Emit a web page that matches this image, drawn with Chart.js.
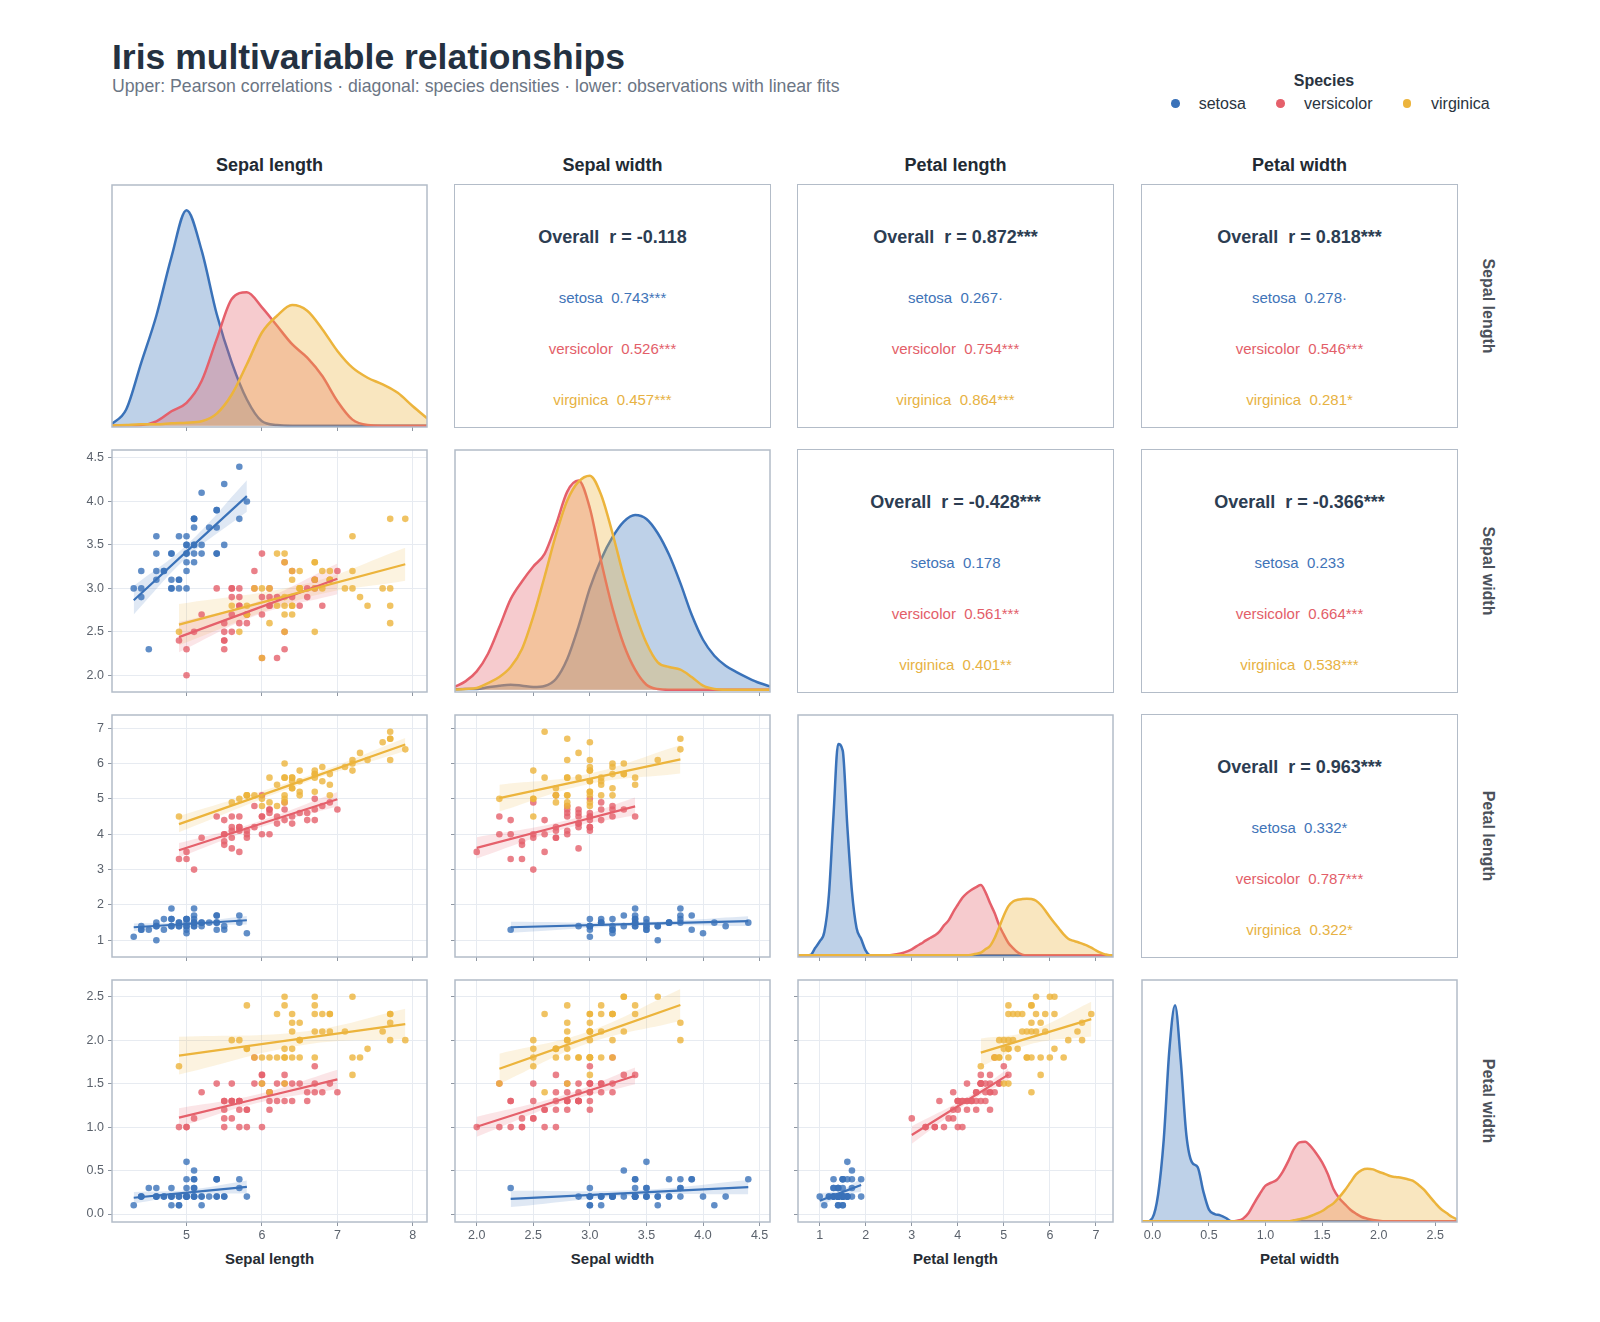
<!DOCTYPE html>
<html><head><meta charset="utf-8"><title>Iris multivariable relationships</title>
<script src="https://cdn.jsdelivr.net/npm/chart.js@4.4.1/dist/chart.umd.min.js"></script>
<style>
html,body{margin:0;padding:0;background:#fff;}
body{position:relative;width:1600px;height:1322px;overflow:hidden;font-family:"Liberation Sans",Arial,Helvetica,sans-serif;}
.txt{position:absolute;line-height:1;white-space:pre;}
canvas{position:absolute;}
.cell{position:absolute;box-sizing:border-box;border:1.5px solid #b3bcc8;}
.cell .line{position:absolute;left:0;right:0;text-align:center;line-height:1;white-space:pre;}
.dot{position:absolute;border-radius:50%;}
</style></head><body>
<script>
// ================= DATA =================
const speciesNames = ['setosa', 'versicolor', 'virginica'];
const variableNames = ['Sepal length', 'Sepal width', 'Petal length', 'Petal width'];

// observations (150 flowers)
const setosaSepalLength = [5.1,4.9,4.7,4.6,5.0,5.4,4.6,5.0,4.4,4.9,5.4,4.8,4.8,4.3,5.8,5.7,5.4,5.1,5.7,5.1,5.4,5.1,4.6,5.1,4.8,5.0,5.0,5.2,5.2,4.7,4.8,5.4,5.2,5.5,4.9,5.0,5.5,4.9,4.4,5.1,5.0,4.5,4.4,5.0,5.1,4.8,5.1,4.6,5.3,5.0];
const setosaSepalWidth  = [3.5,3.0,3.2,3.1,3.6,3.9,3.4,3.4,2.9,3.1,3.7,3.4,3.0,3.0,4.0,4.4,3.9,3.5,3.8,3.8,3.4,3.7,3.6,3.3,3.4,3.0,3.4,3.5,3.4,3.2,3.1,3.4,4.1,4.2,3.1,3.2,3.5,3.6,3.0,3.4,3.5,2.3,3.2,3.5,3.8,3.0,3.8,3.2,3.7,3.3];
const setosaPetalLength = [1.4,1.4,1.3,1.5,1.4,1.7,1.4,1.5,1.4,1.5,1.5,1.6,1.4,1.1,1.2,1.5,1.3,1.4,1.7,1.5,1.7,1.5,1.0,1.7,1.9,1.6,1.6,1.5,1.4,1.6,1.6,1.5,1.5,1.4,1.5,1.2,1.3,1.4,1.3,1.5,1.3,1.3,1.3,1.6,1.9,1.4,1.6,1.4,1.5,1.4];
const setosaPetalWidth  = [0.2,0.2,0.2,0.2,0.2,0.4,0.3,0.2,0.2,0.1,0.2,0.2,0.1,0.1,0.2,0.4,0.4,0.3,0.3,0.3,0.2,0.4,0.2,0.5,0.2,0.2,0.4,0.2,0.2,0.2,0.2,0.4,0.1,0.2,0.2,0.2,0.2,0.1,0.2,0.2,0.3,0.3,0.2,0.6,0.4,0.3,0.2,0.2,0.2,0.2];
const versicolorSepalLength = [7.0,6.4,6.9,5.5,6.5,5.7,6.3,4.9,6.6,5.2,5.0,5.9,6.0,6.1,5.6,6.7,5.6,5.8,6.2,5.6,5.9,6.1,6.3,6.1,6.4,6.6,6.8,6.7,6.0,5.7,5.5,5.5,5.8,6.0,5.4,6.0,6.7,6.3,5.6,5.5,5.5,6.1,5.8,5.0,5.6,5.7,5.7,6.2,5.1,5.7];
const versicolorSepalWidth  = [3.2,3.2,3.1,2.3,2.8,2.8,3.3,2.4,2.9,2.7,2.0,3.0,2.2,2.9,2.9,3.1,3.0,2.7,2.2,2.5,3.2,2.8,2.5,2.8,2.9,3.0,2.8,3.0,2.9,2.6,2.4,2.4,2.7,2.7,3.0,3.4,3.1,2.3,3.0,2.5,2.6,3.0,2.6,2.3,2.7,3.0,2.9,2.9,2.5,2.8];
const versicolorPetalLength = [4.7,4.5,4.9,4.0,4.6,4.5,4.7,3.3,4.6,3.9,3.5,4.2,4.0,4.7,3.6,4.4,4.5,4.1,4.5,3.9,4.8,4.0,4.9,4.7,4.3,4.4,4.8,5.0,4.5,3.5,3.8,3.7,3.9,5.1,4.5,4.5,4.7,4.4,4.1,4.0,4.4,4.6,4.0,3.3,4.2,4.2,4.2,4.3,3.0,4.1];
const versicolorPetalWidth  = [1.4,1.5,1.5,1.3,1.5,1.3,1.6,1.0,1.3,1.4,1.0,1.5,1.0,1.4,1.3,1.4,1.5,1.0,1.5,1.1,1.8,1.3,1.5,1.2,1.3,1.4,1.4,1.7,1.5,1.0,1.1,1.0,1.2,1.6,1.5,1.6,1.5,1.3,1.3,1.3,1.2,1.4,1.2,1.0,1.3,1.2,1.3,1.3,1.1,1.3];
const virginicaSepalLength = [6.3,5.8,7.1,6.3,6.5,7.6,4.9,7.3,6.7,7.2,6.5,6.4,6.8,5.7,5.8,6.4,6.5,7.7,7.7,6.0,6.9,5.6,7.7,6.3,6.7,7.2,6.2,6.1,6.4,7.2,7.4,7.9,6.4,6.3,6.1,7.7,6.3,6.4,6.0,6.9,6.7,6.9,5.8,6.8,6.7,6.7,6.3,6.5,6.2,5.9];
const virginicaSepalWidth  = [3.3,2.7,3.0,2.9,3.0,3.0,2.5,2.9,2.5,3.6,3.2,2.7,3.0,2.5,2.8,3.2,3.0,3.8,2.6,2.2,3.2,2.8,2.8,2.7,3.3,3.2,2.8,3.0,2.8,3.0,2.8,3.8,2.8,2.8,2.6,3.0,3.4,3.1,3.0,3.1,3.1,3.1,2.7,3.2,3.3,3.0,2.5,3.0,3.4,3.0];
const virginicaPetalLength = [6.0,5.1,5.9,5.6,5.8,6.6,4.5,6.3,5.8,6.1,5.1,5.3,5.5,5.0,5.1,5.3,5.5,6.7,6.9,5.0,5.7,4.9,6.7,4.9,5.7,6.0,4.8,4.9,5.6,5.8,6.1,6.4,5.6,5.1,5.6,6.1,5.6,5.5,4.8,5.4,5.6,5.1,5.1,5.9,5.7,5.2,5.0,5.2,5.4,5.1];
const virginicaPetalWidth  = [2.5,1.9,2.1,1.8,2.2,2.1,1.7,1.8,1.8,2.5,2.0,1.9,2.1,2.0,2.4,2.3,1.8,2.2,2.3,1.5,2.3,2.0,2.0,1.8,2.1,1.8,1.8,1.8,2.1,1.6,1.9,2.0,2.2,1.5,1.4,2.3,2.4,1.8,1.8,2.1,2.4,2.3,1.9,2.3,2.5,2.3,1.9,2.0,2.3,1.8];

// tick values and labels
const sepalLengthTicks = [5, 6, 7, 8];
const sepalLengthTickLabels = ['5', '6', '7', '8'];
const sepalWidthTicks = [2.0, 2.5, 3.0, 3.5, 4.0, 4.5];
const sepalWidthTickLabels = ['2.0', '2.5', '3.0', '3.5', '4.0', '4.5'];
const petalLengthTicks = [1, 2, 3, 4, 5, 6, 7];
const petalLengthTickLabels = ['1', '2', '3', '4', '5', '6', '7'];
const petalWidthTicks = [0.0, 0.5, 1.0, 1.5, 2.0, 2.5];
const petalWidthTickLabels = ['0.0', '0.5', '1.0', '1.5', '2.0', '2.5'];
const axisMin = [4.012, 1.808, 0.528, -0.092];
const axisMax = [8.188, 4.592, 7.372, 2.692];

// species densities
const sepalLengthGrid = [4.0,4.2,4.4,4.6,4.8,5.0,5.2,5.4,5.6,5.8,6.0,6.2,6.4,6.6,6.8,7.0,7.2,7.4,7.6,7.8,8.0,8.2];
const setosaSepalLengthDensity     = [0.006,0.096,0.376,0.656,1.006,1.286,1.046,0.666,0.376,0.156,0.026,0.004,0,0,0,0,0,0,0,0,0,0];
const versicolorSepalLengthDensity = [0,0.002,0.004,0.026,0.086,0.136,0.266,0.516,0.756,0.796,0.706,0.596,0.486,0.406,0.296,0.146,0.036,0.004,0,0,0,0];
const virginicaSepalLengthDensity  = [0,0.004,0.008,0.008,0.014,0.018,0.026,0.072,0.186,0.366,0.556,0.656,0.72,0.686,0.576,0.446,0.346,0.286,0.246,0.196,0.116,0.04];

const sepalWidthGrid = [1.8,1.9,2.0,2.1,2.2,2.3,2.4,2.5,2.6,2.7,2.8,2.9,3.0,3.1,3.2,3.3,3.4,3.5,3.6,3.7,3.8,3.9,4.0,4.1,4.2,4.3,4.4,4.5,4.6];
const setosaSepalWidthDensity     = [0.002,0.004,0.004,0.014,0.024,0.03,0.024,0.016,0.022,0.064,0.184,0.38,0.61,0.784,0.916,1.01,1.05,1.026,0.94,0.81,0.64,0.45,0.3,0.204,0.144,0.104,0.07,0.04,0.018];
const versicolorSepalWidthDensity = [0.016,0.05,0.11,0.216,0.376,0.544,0.65,0.74,0.816,0.99,1.19,1.256,1.09,0.77,0.49,0.27,0.12,0.03,0.004,0,0,0,0,0,0,0,0,0,0];
const virginicaSepalWidthDensity  = [0,0.004,0.01,0.04,0.076,0.136,0.244,0.44,0.68,0.93,1.136,1.25,1.286,1.17,0.94,0.68,0.46,0.28,0.164,0.136,0.12,0.076,0.024,0.004,0,0,0,0,0];

const petalLengthGrid = [0.5,0.6,0.7,0.8,0.9,1.0,1.1,1.2,1.3,1.4,1.5,1.6,1.7,1.8,1.9,2.0,2.1,2.2,2.3,2.4,2.5,2.6,2.7,2.8,2.9,3.0,3.1,3.2,3.3,3.4,3.5,3.6,3.7,3.8,3.9,4.0,4.1,4.2,4.3,4.4,4.5,4.6,4.7,4.8,4.9,5.0,5.1,5.2,5.3,5.4,5.5,5.6,5.7,5.8,5.9,6.0,6.1,6.2,6.3,6.4,6.5,6.6,6.7,6.8,6.9,7.0,7.1,7.2,7.3,7.4];
const setosaPetalLengthDensity = [0,0,0,0.002,0.044,0.084,0.14,0.364,0.844,1.27,
  1.23,0.774,0.384,0.164,0.098,0.028,0,0,0,0,
  0,0,0,0,0,0,0,0,0,0, 0,0,0,0,0,0,0,0,0,0,
  0,0,0,0,0,0,0,0,0,0, 0,0,0,0,0,0,0,0,0,0, 0,0,0,0,0,0,0,0,0,0];
const versicolorPetalLengthDensity = [0,0,0,0,0,0,0,0,0,0, 0,0,0,0,0,0,0,0,0,0,
  0,0.004,0.008,0.014,0.024,0.036,0.054,0.07,0.088,0.104,
  0.12,0.142,0.18,0.21,0.26,0.304,0.346,0.374,0.394,0.41,
  0.422,0.38,0.314,0.254,0.18,0.124,0.074,0.044,0.018,0.004,
  0,0,0,0,0,0,0,0,0,0, 0,0,0,0,0,0,0,0,0,0];
const virginicaPetalLengthDensity = [0,0,0,0,0,0,0,0,0,0, 0,0,0,0,0,0,0,0,0,0, 0,0,0,0,0,0,0,0,0,0,
  0,0,0,0,0,0,0,0,0.004,0.01,
  0.016,0.036,0.056,0.104,0.17,0.24,0.296,0.324,0.334,0.338,
  0.34,0.338,0.328,0.304,0.27,0.23,0.194,0.16,0.126,0.1,
  0.088,0.08,0.07,0.06,0.046,0.03,0.016,0.006,0,0];

const petalWidthGrid = [-0.1,-0.05,0,0.05,0.1,0.15,0.2,0.25,0.3,0.35,0.4,0.45,0.5,0.55,0.6,0.65,0.7,0.75,0.8,0.85,0.9,0.95,1.0,1.05,1.1,1.15,1.2,1.25,1.3,1.35,1.4,1.45,1.5,1.55,1.6,1.65,1.7,1.75,1.8,1.85,1.9,1.95,2.0,2.05,2.1,2.15,2.2,2.25,2.3,2.35,2.4,2.45,2.5,2.55,2.6,2.65,2.7];
const setosaPetalWidthDensity = [0,0,0.02,0.16,0.49,1.03,1.298,0.97,0.52,0.354,
  0.326,0.18,0.07,0.044,0.036,0.02,0,0,0,0,
  0,0,0,0,0,0,0,0,0,0, 0,0,0,0,0,0,0,0,0,0, 0,0,0,0,0,0,0,0,0,0, 0,0,0,0,0,0,0];
const versicolorPetalWidthDensity = [0,0,0,0,0,0,0,0,0,0,
  0,0,0,0,0,0,0,0.004,0.016,0.05,
  0.11,0.166,0.214,0.232,0.25,0.296,0.36,0.434,0.474,0.478,
  0.45,0.406,0.354,0.284,0.194,0.14,0.104,0.07,0.046,0.026,
  0.016,0.008,0.004,0,0,0,0,0,0,0, 0,0,0,0,0,0,0];
const virginicaPetalWidthDensity = [0,0,0,0,0,0,0,0,0,0, 0,0,0,0,0,0,0,0,0,0,
  0,0,0,0,0,0,0,0.006,0.012,0.02,
  0.032,0.046,0.062,0.086,0.108,0.144,0.186,0.234,0.282,0.308,
  0.316,0.312,0.298,0.286,0.272,0.266,0.262,0.254,0.244,0.22,
  0.19,0.15,0.11,0.074,0.05,0.026,0.01];
const densityMin = [-0.008, -0.014, -0.01, -0.004];
const densityMax = [1.436, 1.44, 1.444, 1.45];

// linear fits: x at species min / mean / max, fitted y, confidence half-width
const fitSepalWidthBySepalLength = [
  {x:[4.3,5.006,5.8], y:[2.864,3.428,4.062], ci:[0.164,0.073,0.181]},
  {x:[4.9,5.936,7.0], y:[2.439,2.770,3.110], ci:[0.173,0.077,0.177]},
  {x:[4.9,6.588,7.9], y:[2.583,2.974,3.278], ci:[0.236,0.082,0.190]}];
const fitPetalLengthBySepalLength = [
  {x:[4.3,5.006,5.8], y:[1.369,1.462,1.567], ci:[0.109,0.048,0.120]},
  {x:[4.9,5.936,7.0], y:[3.549,4.260,4.990], ci:[0.200,0.089,0.205]},
  {x:[4.9,6.588,7.9], y:[4.286,5.552,6.536], ci:[0.228,0.080,0.184]}];
const fitPetalLengthBySepalWidth = [
  {x:[2.3,3.428,4.4], y:[1.370,1.462,1.541], ci:[0.155,0.049,0.136]},
  {x:[2.0,2.770,3.4], y:[3.613,4.260,4.789], ci:[0.299,0.112,0.253]},
  {x:[2.2,2.974,3.8], y:[5.021,5.552,6.119], ci:[0.381,0.145,0.403]}];
const fitPetalWidthBySepalLength = [
  {x:[4.3,5.006,5.8], y:[0.187,0.246,0.312], ci:[0.066,0.029,0.072]},
  {x:[4.9,5.936,7.0], y:[1.109,1.326,1.549], ci:[0.108,0.048,0.110]},
  {x:[4.9,6.588,7.9], y:[1.821,2.026,2.185], ci:[0.217,0.076,0.175]}];
const fitPetalWidthBySepalWidth = [
  {x:[2.3,3.428,4.4], y:[0.173,0.246,0.309], ci:[0.093,0.029,0.082]},
  {x:[2.0,2.770,3.4], y:[1.004,1.326,1.590], ci:[0.114,0.043,0.096]},
  {x:[2.2,2.974,3.8], y:[1.671,2.026,2.405], ci:[0.174,0.067,0.184]}];
const fitPetalWidthByPetalLength = [
  {x:[1.0,1.462,1.9], y:[0.153,0.246,0.334], ci:[0.082,0.029,0.078]},
  {x:[3.0,4.260,5.1], y:[0.909,1.326,1.604], ci:[0.101,0.035,0.072]},
  {x:[4.5,5.552,6.9], y:[1.857,2.026,2.242], ci:[0.162,0.075,0.199]}];

// correlations (upper panels), cells listed as [row, col]
const corrCells = [[0,1],[0,2],[0,3],[1,2],[1,3],[2,3]];
const overallR    = ['-0.118', '0.872***', '0.818***', '-0.428***', '-0.366***', '0.963***'];
const setosaR     = ['0.743***', '0.267\u00b7', '0.278\u00b7', '0.178', '0.233', '0.332*'];
const versicolorR = ['0.526***', '0.754***', '0.546***', '0.561***', '0.664***', '0.787***'];
const virginicaR  = ['0.457***', '0.864***', '0.281*', '0.401**', '0.538***', '0.322*'];

// ================= STYLE / LAYOUT =================
const FONT = '"Liberation Sans", Arial, Helvetica, sans-serif';
Chart.defaults.font.family = FONT;
const speciesColors = ['#3a72b9', '#e5606b', '#ecb43c'];
const speciesTextColors = ['#3f74b8', '#e35e69', '#e7b243'];
function rgba(hex, a) {
  const n = parseInt(hex.slice(1), 16);
  return 'rgba(' + ((n >> 16) & 255) + ',' + ((n >> 8) & 255) + ',' + (n & 255) + ',' + a + ')';
}
const colLeft = [112, 455, 798, 1142];
const rowTop = [185, 450, 715, 980];
const PW = 315, PH = 242;
const ML = 50, MT = 16, MR = 16, MB = 40;
const gridColor = '#e7ebf1', tickColor = '#8f97a2', tickLabelColor = '#5b626c', borderColor = '#b3bcc8';

const tickValues = [sepalLengthTicks, sepalWidthTicks, petalLengthTicks, petalWidthTicks];
const tickLabels = [sepalLengthTickLabels, sepalWidthTickLabels, petalLengthTickLabels, petalWidthTickLabels];
const obs = [
  [setosaSepalLength, setosaSepalWidth, setosaPetalLength, setosaPetalWidth],
  [versicolorSepalLength, versicolorSepalWidth, versicolorPetalLength, versicolorPetalWidth],
  [virginicaSepalLength, virginicaSepalWidth, virginicaPetalLength, virginicaPetalWidth]];
const densityGrid = [sepalLengthGrid, sepalWidthGrid, petalLengthGrid, petalWidthGrid];
const densityValues = [
  [setosaSepalLengthDensity, versicolorSepalLengthDensity, virginicaSepalLengthDensity],
  [setosaSepalWidthDensity, versicolorSepalWidthDensity, virginicaSepalWidthDensity],
  [setosaPetalLengthDensity, versicolorPetalLengthDensity, virginicaPetalLengthDensity],
  [setosaPetalWidthDensity, versicolorPetalWidthDensity, virginicaPetalWidthDensity]];
const fitsFor = {
  '1,0': fitSepalWidthBySepalLength, '2,0': fitPetalLengthBySepalLength, '2,1': fitPetalLengthBySepalWidth,
  '3,0': fitPetalWidthBySepalLength, '3,1': fitPetalWidthBySepalWidth, '3,2': fitPetalWidthByPetalLength};
const speciesR = [setosaR, versicolorR, virginicaR];

// ================= HTML TEXT =================
function addText(txt, css) {
  const d = document.createElement('div');
  d.className = 'txt';
  d.textContent = txt;
  Object.assign(d.style, css);
  document.body.appendChild(d);
  return d;
}
addText('Iris multivariable relationships', {left:'112px', top:'39.5px', fontSize:'35.5px', fontWeight:'bold', color:'#243141'});
addText('Upper: Pearson correlations \u00b7 diagonal: species densities \u00b7 lower: observations with linear fits',
  {left:'112px', top:'78px', fontSize:'17.7px', color:'#6b7584'});
addText('Species', {left:'1224px', width:'200px', textAlign:'center', top:'73px', fontSize:'16px', fontWeight:'bold', color:'#2a3440'});
const legendDotX = [1175.3, 1280.3, 1407];
const legendTextX = [1198.7, 1304, 1431];
speciesNames.forEach((sp, s) => {
  const d = document.createElement('div');
  d.className = 'dot';
  Object.assign(d.style, {left:(legendDotX[s]-4.3)+'px', top:(103.3-4.3)+'px', width:'8.6px', height:'8.6px', background:speciesColors[s]});
  document.body.appendChild(d);
  addText(sp, {left:legendTextX[s]+'px', top:'96px', fontSize:'16px', color:'#2a3440'});
});
variableNames.forEach((name, i) => {
  addText(name, {left:colLeft[i]+'px', width:PW+'px', textAlign:'center', top:'156px', fontSize:'18px', fontWeight:'bold', color:'#222a33'});
  addText(name, {left:colLeft[i]+'px', width:PW+'px', textAlign:'center', top:'1251px', fontSize:'15px', fontWeight:'bold', color:'#262c33'});
  addText(name, {left:(1488-PH/2)+'px', width:PH+'px', textAlign:'center', top:(rowTop[i]+PH/2-8)+'px', fontSize:'16px', fontWeight:'bold', color:'#4b515a', transform:'rotate(90deg)', transformOrigin:'50% 50%'});
});

// upper correlation cells
corrCells.forEach(([r, c], k) => {
  const box = document.createElement('div');
  box.className = 'cell';
  Object.assign(box.style, {left:(colLeft[c]-0.75)+'px', top:(rowTop[r]-0.75)+'px', width:(PW+1.5)+'px', height:(PH+1.5)+'px'});
  const l0 = document.createElement('div');
  l0.className = 'line';
  l0.textContent = 'Overall  r = ' + overallR[k];
  Object.assign(l0.style, {top:'42.7px', fontSize:'18px', fontWeight:'bold', color:'#2c3d52'});
  box.appendChild(l0);
  const tops = [105.2, 155.9, 206.9];
  speciesNames.forEach((sp, s) => {
    const l = document.createElement('div');
    l.className = 'line';
    l.textContent = sp + '  ' + speciesR[s][k];
    Object.assign(l.style, {top:tops[s]+'px', fontSize:'15px', color:speciesTextColors[s]});
    box.appendChild(l);
  });
  document.body.appendChild(box);
});

// ================= CHARTS =================
const panelBorder = {
  id: 'panelBorder',
  afterDraw(chart) {
    const {ctx, chartArea: a} = chart;
    ctx.save();
    ctx.strokeStyle = borderColor;
    ctx.lineWidth = 1.5;
    ctx.strokeRect(a.left, a.top, a.right - a.left, a.bottom - a.top);
    ctx.restore();
  }
};
function addCanvas(r, c) {
  const cv = document.createElement('canvas');
  const w = ML + PW + MR, h = MT + PH + MB;
  cv.width = w; cv.height = h;
  Object.assign(cv.style, {left:(colLeft[c]-ML)+'px', top:(rowTop[r]-MT)+'px', width:w+'px', height:h+'px'});
  document.body.appendChild(cv);
  return cv;
}
function axisOpts(v, horizontal, showLabels, gridOnArea) {
  return {
    type: 'linear', position: horizontal ? 'bottom' : 'left',
    min: axisMin[v], max: axisMax[v],
    afterBuildTicks: s => { s.ticks = tickValues[v].map(value => ({value})); },
    afterFit: s => { if (horizontal) s.height = MB; else s.width = ML; },
    grid: {display: true, drawOnChartArea: gridOnArea, drawTicks: true, color: gridColor, tickColor: tickColor, tickLength: 4, lineWidth: 1},
    border: {display: false},
    ticks: {display: showLabels, autoSkip: false, maxRotation: 0, minRotation: 0, padding: horizontal ? 2 : 4,
      color: tickLabelColor, font: {family: FONT, size: 12.5},
      callback: value => tickLabels[v][tickValues[v].indexOf(value)]}
  };
}
function baseOptions(padLeft) {
  return {
    responsive: false, animation: false, events: [],
    layout: {padding: {left: padLeft, top: MT, right: MR, bottom: 0}},
    plugins: {legend: {display: false}, tooltip: {enabled: false}}
  };
}

function densityPanel(v) {
  const cv = addCanvas(v, v);
  const datasets = speciesNames.map((sp, s) => ({
    label: sp,
    data: densityGrid[v].map((x, i) => ({x, y: densityValues[v][s][i]})),
    borderColor: speciesColors[s], borderWidth: 2.5,
    backgroundColor: rgba(speciesColors[s], 0.33), fill: 'origin',
    pointRadius: 0, cubicInterpolationMode: 'monotone', order: 3 - s
  }));
  const options = baseOptions(ML);
  options.scales = {
    x: axisOpts(v, true, v === 3, false),
    y: {display: false, min: densityMin[v], max: densityMax[v]}
  };
  new Chart(cv, {type: 'line', data: {datasets}, options, plugins: [panelBorder]});
}

function scatterPanel(r, c) {
  const cv = addCanvas(r, c);
  const fit = fitsFor[r + ',' + c];
  const datasets = [];
  speciesNames.forEach((sp, s) => {
    const f = fit[s];
    datasets.push({data: f.x.map((x, i) => ({x, y: f.y[i] + f.ci[i]})), borderColor: 'rgba(0,0,0,0)', borderWidth: 0,
      pointRadius: 0, tension: 0.4, fill: false, order: 40 + s});
    datasets.push({data: f.x.map((x, i) => ({x, y: f.y[i] - f.ci[i]})), borderColor: 'rgba(0,0,0,0)', borderWidth: 0,
      pointRadius: 0, tension: 0.4, fill: '-1', backgroundColor: rgba(speciesColors[s], 0.16), order: 40 + s});
  });
  speciesNames.forEach((sp, s) => {
    datasets.push({label: sp, data: obs[s][c].map((x, i) => ({x, y: obs[s][r][i]})), showLine: false,
      pointRadius: 3.3, pointBackgroundColor: rgba(speciesColors[s], 0.8), pointBorderWidth: 0,
      pointBorderColor: 'rgba(0,0,0,0)', order: 30 - s});
  });
  speciesNames.forEach((sp, s) => {
    const f = fit[s];
    datasets.push({data: f.x.map((x, i) => ({x, y: f.y[i]})), borderColor: speciesColors[s], borderWidth: 2.2,
      pointRadius: 0, tension: 0, fill: false, order: 10 - s});
  });
  const options = baseOptions(0);
  options.scales = {
    x: axisOpts(c, true, r === 3, true),
    y: axisOpts(r, false, c === 0, true)
  };
  new Chart(cv, {type: 'line', data: {datasets}, options, plugins: [panelBorder]});
}

for (let r = 0; r < 4; r++) {
  for (let c = 0; c < 4; c++) {
    if (r === c) densityPanel(r);
    else if (r > c) scatterPanel(r, c);
  }
}
</script>
</body></html>
